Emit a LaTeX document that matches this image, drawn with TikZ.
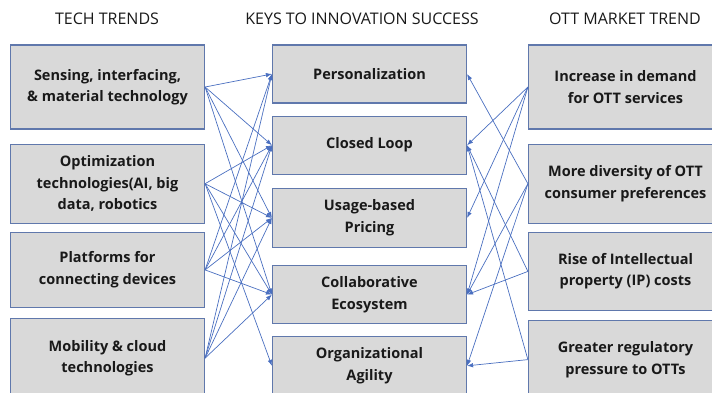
\documentclass[tikz,border=0pt]{standalone}
\usepackage{fontspec}
\setmainfont{Open Sans}
\usetikzlibrary{positioning, arrows.meta}

\definecolor{boxfill}{HTML}{D9D9D9}
\definecolor{boxline}{HTML}{6078AC}
\definecolor{linkblue}{HTML}{4A6FC0}

\begin{document}
\begin{tikzpicture}[x=1pt, y=-1pt,
    box/.style={draw=boxline, fill=boxfill, line width=1.2pt,
        minimum width=194pt, align=center, text=black!90,
        font=\bfseries\fontsize{14.5}{21.5}\selectfont},
    heading/.style={text=black!90, font=\fontsize{16}{18}\selectfont},
    link/.style={draw=linkblue, line width=0.7pt,
        -{Latex[length=6pt, width=4.5pt]}}]

        \useasboundingbox (0,0) rectangle (712,392);

        % Add the headings
        \node[heading] (h_tech) at (107,19) {TECH TRENDS};
        \node[heading] (h_keys) at (362,19) {KEYS TO INNOVATION SUCCESS};
        \node[heading] (h_ott)  at (625,19) {OTT MARKET TREND};

        % Add the tech trends
        \node[box, minimum height=84pt] (tech_1) at (107.5,87)
            {Sensing, interfacing,\\ \& material technology};
        \node[box, minimum height=79pt,
            below=14pt of tech_1] (tech_2)
            {Optimization\\ technologies(AI, big\\ data, robotics};
        \node[box, minimum height=75pt,
            below=8pt of tech_2] (tech_3)
            {Platforms for\\ connecting devices};
        \node[box, minimum height=79pt,
            below=10pt of tech_3] (tech_4)
            {Mobility \& cloud\\ technologies};

        % Add the keys to innovation success
        \node[box, minimum height=58pt] (key_1) at (369.5,74)
            {Personalization};
        \node[box, minimum height=58pt,
            below=12pt of key_1] (key_2)
            {Closed Loop};
        \node[box, minimum height=59pt,
            below=13pt of key_2] (key_3)
            {Usage-based\\ Pricing};
        \node[box, minimum height=58pt,
            below=17pt of key_3] (key_4)
            {Collaborative\\ Ecosystem};
        \node[box, minimum height=58pt,
            below=12pt of key_4] (key_5)
            {Organizational\\ Agility};

        % Add the OTT market trends
        \node[box, minimum height=84pt] (ott_1) at (625.5,87)
            {Increase in demand\\ for OTT services};
        \node[box, minimum height=79pt,
            below=14pt of ott_1] (ott_2)
            {More diversity of OTT\\ consumer preferences};
        \node[box, minimum height=78pt,
            below=8pt of ott_2] (ott_3)
            {Rise of Intellectual\\ property (IP) costs};
        \node[box, minimum height=78pt,
            below=9pt of ott_3] (ott_4)
            {Greater regulatory\\ pressure to OTTs};

        % Connect the tech trends to the keys
        \draw[link] (tech_1.east) -- (key_1.west);
        \draw[link] (tech_1.east) -- (key_2.west);
        \draw[link] (tech_1.east) -- (key_3.west);
        \draw[link] (tech_1.east) -- (key_4.west);
        \draw[link] (tech_2.east) -- (key_2.west);
        \draw[link] (tech_2.east) -- (key_3.west);
        \draw[link] (tech_2.east) -- (key_4.west);
        \draw[link] (tech_2.east) -- (key_5.west);
        \draw[link] (tech_3.east) -- (key_1.west);
        \draw[link] (tech_3.east) -- (key_2.west);
        \draw[link] (tech_3.east) -- (key_3.west);
        \draw[link] (tech_3.east) -- (key_4.west);
        \draw[link] (tech_4.east) -- (key_1.west);
        \draw[link] (tech_4.east) -- (key_2.west);
        \draw[link] (tech_4.east) -- (key_3.west);
        \draw[link] (tech_4.east) -- (key_4.west);

        % Connect the market trends to the keys
        \draw[link] (ott_1.west) -- (key_2.east);
        \draw[link] (ott_1.west) -- (key_3.east);
        \draw[link] (ott_1.west) -- (key_4.east);
        \draw[link] (ott_2.west) -- (key_1.east);
        \draw[link] (ott_2.west) -- (key_4.east);
        \draw[link] (ott_2.west) -- (key_5.east);
        \draw[link] (ott_3.west) -- (key_2.east);
        \draw[link] (ott_3.west) -- (key_4.east);
        \draw[link] (ott_4.west) -- (key_2.east);
        \draw[link] (ott_4.west) -- (key_5.east);
\end{tikzpicture}
\end{document}
